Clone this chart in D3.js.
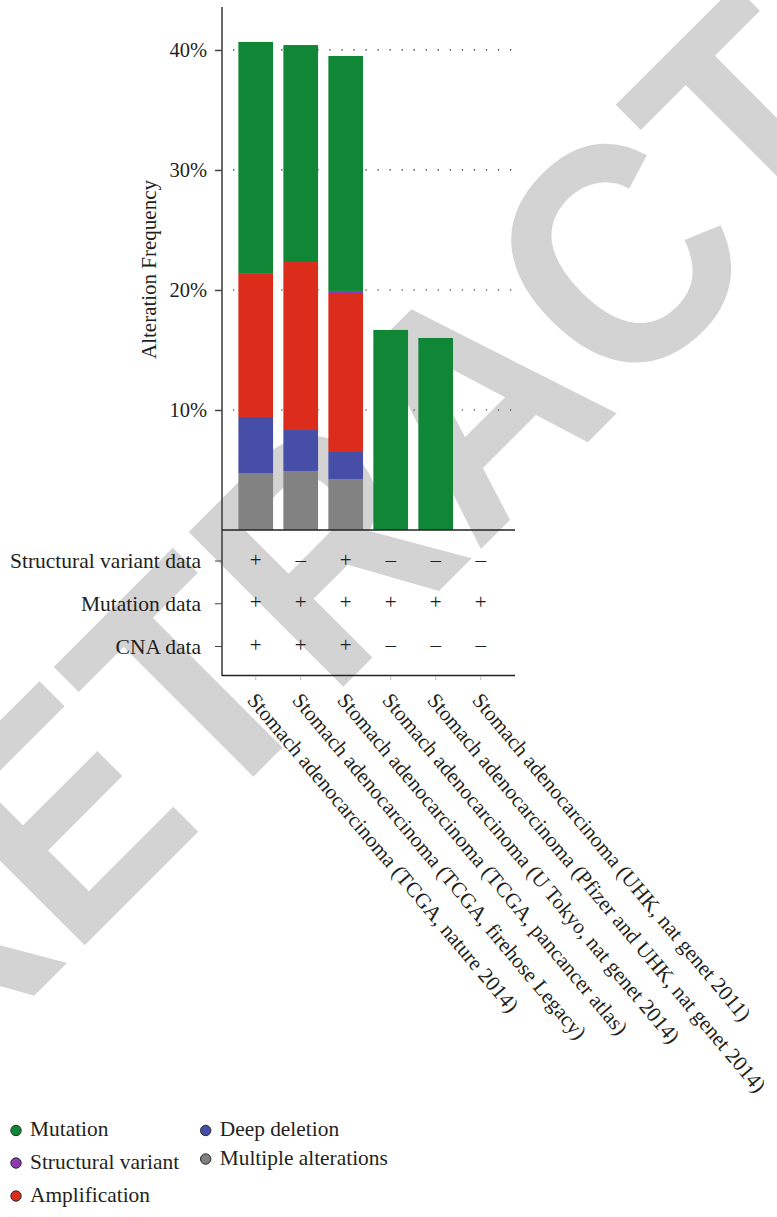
<!DOCTYPE html>
<html>
<head>
<meta charset="utf-8">
<script src="https://cdn.jsdelivr.net/npm/d3@7"></script>
<style>
  html, body { margin: 0; padding: 0; background: #ffffff; }
  svg { display: block; }
  text { font-family: "Liberation Serif", "Times New Roman", serif; fill: #231f20; }
</style>
</head>
<body>
<svg id="chart" width="777" height="1217"></svg>
<script>
// ---------------- data ----------------
const categories = [
  "Stomach adenocarcinoma (TCGA, nature 2014)",
  "Stomach adenocarcinoma (TCGA, firehose Legacy)",
  "Stomach adenocarcinoma (TCGA, pancancer atlas)",
  "Stomach adenocarcinoma (U Tokyo, nat genet 2014)",
  "Stomach adenocarcinoma (Pfizer and UHK, nat genet 2014)",
  "Stomach adenocarcinoma (UHK, nat genet 2011)"
];
// alteration frequency (%) per study, per alteration type
const multipleAlterations = [4.75, 4.92, 4.25, 0, 0, 0];
const deepDeletion        = [4.67, 3.41, 2.25, 0, 0, 0];
const amplification       = [11.92, 14.00, 13.25, 0, 0, 0];
const structuralVariant   = [0, 0, 0.17, 0, 0, 0];
const mutation            = [19.33, 18.08, 19.58, 16.67, 16.00, 0];

const seriesNames  = ["Multiple alterations", "Deep deletion", "Amplification", "Structural variant", "Mutation"];
const seriesColors = ["#828282", "#464ea8", "#dc2c1c", "#8e36b4", "#108737"];

const yTickValues = [10, 20, 30, 40];
const yTickLabels = ["10%", "20%", "30%", "40%"];
const yTitle = "Alteration Frequency";

const tableRows = ["Structural variant data", "Mutation data", "CNA data"];
const svData  = ["+", "\u2013", "+", "\u2013", "\u2013", "\u2013"];
const mutData = ["+", "+", "+", "+", "+", "+"];
const cnaData = ["+", "+", "+", "\u2013", "\u2013", "\u2013"];

const legendNames  = ["Mutation", "Structural variant", "Amplification", "Deep deletion", "Multiple alterations"];
const legendColors = ["#108737", "#8e3bb3", "#dc2c1c", "#464ea8", "#808080"];

const watermarkText = "RETRACTED";

// ---------------- drawing ----------------
const svg = d3.select("#chart");

// watermark (behind everything)
svg.append("text")
  .attr("transform", "translate(-75,1105) rotate(-45) scale(0.9,1)")
  .style("font-family", "'Liberation Sans', Arial, sans-serif")
  .style("font-weight", "bold")
  .style("font-size", "318px")
  .style("fill", "#d3d3d3")
  .text(watermarkText);

const axisX = 222;
const plotRight = 515;

const x = d3.scaleBand()
  .domain(categories)
  .range([233.2, 503.2])
  .paddingInner(0.229)
  .paddingOuter(0.115);

const y = d3.scaleLinear().domain([0, 43.58]).range([530, 7]);

// grid lines (dotted)
svg.append("g")
  .selectAll("line")
  .data(yTickValues)
  .join("line")
  .attr("x1", 233).attr("x2", 513)
  .attr("y1", d => y(d)).attr("y2", d => y(d))
  .attr("stroke", "#222")
  .attr("stroke-width", 1.2)
  .attr("stroke-dasharray", "1.3,10.74");

// stacked bars
const rows = categories.map((c, i) => ({
  cat: c,
  "Multiple alterations": multipleAlterations[i],
  "Deep deletion": deepDeletion[i],
  "Amplification": amplification[i],
  "Structural variant": structuralVariant[i],
  "Mutation": mutation[i]
}));
const stacked = d3.stack().keys(seriesNames)(rows);
const color = d3.scaleOrdinal().domain(seriesNames).range(seriesColors);

svg.append("g")
  .selectAll("g")
  .data(stacked)
  .join("g")
  .attr("fill", d => color(d.key))
  .selectAll("rect")
  .data(d => d)
  .join("rect")
  .attr("x", d => x(d.data.cat))
  .attr("width", x.bandwidth())
  .attr("y", d => y(d[1]))
  .attr("height", d => Math.max(0, y(d[0]) - y(d[1])));

// y axis
const yAxis = d3.axisLeft(y)
  .tickValues(yTickValues)
  .tickFormat((d, i) => yTickLabels[i])
  .tickSize(7)
  .tickPadding(8);
const gy = svg.append("g").attr("transform", `translate(${axisX},0)`).call(yAxis);
gy.select(".domain").remove();
gy.selectAll(".tick line").attr("stroke", "#444").attr("stroke-width", 1.5);
gy.selectAll(".tick text")
  .style("font-family", "'Liberation Serif', serif")
  .style("font-size", "20.5px")
  .attr("fill", "#231f20");

// table rows
const rowY = d3.scalePoint().domain(tableRows).range([561, 646.5]);
const tableData = [svData, mutData, cnaData];

svg.append("g").selectAll("text")
  .data(tableRows)
  .join("text")
  .attr("x", 201)
  .attr("y", d => rowY(d) + 7)
  .attr("text-anchor", "end")
  .style("font-size", "21.5px")
  .text(d => d);

svg.append("g").selectAll("line")
  .data(tableRows)
  .join("line")
  .attr("x1", axisX - 7).attr("x2", axisX)
  .attr("y1", d => rowY(d)).attr("y2", d => rowY(d))
  .attr("stroke", "#444").attr("stroke-width", 1);

tableRows.forEach((r, ri) => {
  svg.append("g").selectAll("text")
    .data(categories)
    .join("text")
    .attr("x", d => x(d) + x.bandwidth() / 2)
    .attr("y", rowY(r) + 5.5)
    .attr("text-anchor", "middle")
    .style("font-size", "21px")
    .text((d, i) => tableData[ri][i]);
});

// axis lines
svg.append("line")
  .attr("x1", axisX).attr("x2", axisX)
  .attr("y1", 7).attr("y2", 676)
  .attr("stroke", "#444").attr("stroke-width", 1.6);
svg.append("line")
  .attr("x1", axisX).attr("x2", plotRight)
  .attr("y1", y(0)).attr("y2", y(0))
  .attr("stroke", "#222").attr("stroke-width", 1.5);
svg.append("line")
  .attr("x1", axisX).attr("x2", plotRight)
  .attr("y1", 675.5).attr("y2", 675.5)
  .attr("stroke", "#222").attr("stroke-width", 1.5);
svg.append("g").selectAll("line")
  .data(categories)
  .join("line")
  .attr("x1", d => x(d) + x.bandwidth() / 2)
  .attr("x2", d => x(d) + x.bandwidth() / 2)
  .attr("y1", 676).attr("y2", 680)
  .attr("stroke", "#bbb").attr("stroke-width", 1);

// y title
svg.append("text")
  .attr("transform", "translate(156,269.5) rotate(-90)")
  .attr("text-anchor", "middle")
  .style("font-size", "21px")
  .text(yTitle);

// rotated category labels
svg.append("g").selectAll("text")
  .data(categories)
  .join("text")
  .attr("transform", d => `translate(${x(d) + x.bandwidth() / 2 - 9.4},700.8) rotate(50)`)
  .style("font-size", "21.3px")
  .text(d => d);

// legend
const legendX = d3.scaleOrdinal().domain(legendNames).range([16, 16, 16, 205.7, 205.7]);
const legendY = d3.scaleOrdinal().domain(legendNames).range([1130.5, 1163, 1196, 1130.5, 1159]);
const lg = svg.append("g").selectAll("g")
  .data(legendNames)
  .join("g")
  .attr("transform", d => `translate(${legendX(d)},${legendY(d)})`);
lg.append("circle")
  .attr("r", 5.2)
  .attr("fill", (d, i) => legendColors[i])
  .attr("stroke", "#2a2a2a")
  .attr("stroke-width", 1);
lg.append("text")
  .attr("x", 14)
  .attr("y", 5.8)
  .style("font-size", "21.4px")
  .text(d => d);
</script>
</body>
</html>
